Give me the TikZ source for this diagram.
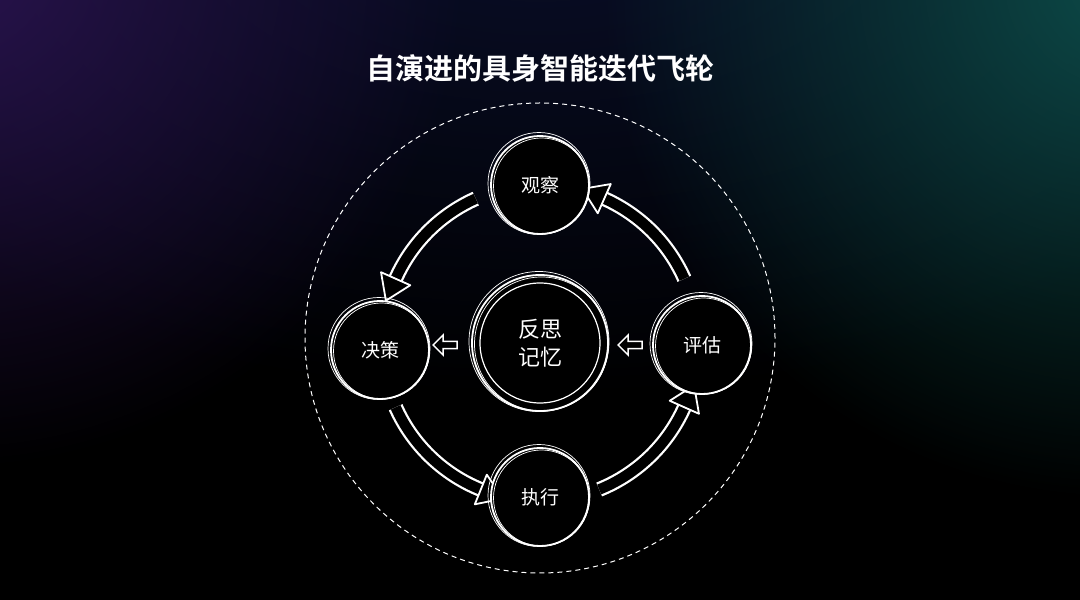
\documentclass[tikz,border=0pt]{standalone}
\usepackage{fontspec}
\newfontfamily\cjk{Noto Sans CJK SC}
\newfontfamily\cjkb{Noto Sans CJK SC Bold}
\usetikzlibrary{shapes.arrows,fadings}
\tikzfading[name=glow, inner color=transparent!0, outer color=transparent!100]
\definecolor{bgp}{HTML}{2A1450}
\definecolor{bgt}{HTML}{0D4A48}
\definecolor{bgn}{HTML}{0A0F2A}
\tikzset{
  stage/.style={circle,draw=white,line width=1.8pt,fill=black,minimum size=#1,text=white,font=\cjk\fontsize{19}{20}\selectfont},
  sketch/.style={draw=white!80,line width=0.7pt},
  small/.style={single arrow,draw=white,line width=1.5pt,fill=black,minimum height=24pt,minimum width=20pt,single arrow head extend=3pt,shape border rotate=180,inner sep=1pt}
}
\newcommand{\flowarc}[3]{% start angle, end angle, radius
  \draw[white,line width=15pt] (540+#3*cos #1, 257+#3*sin #1) arc[start angle=#1,end angle=#2,radius=#3];
  \draw[black,line width=10.5pt] (540+#3*cos #1, 257+#3*sin #1) arc[start angle=#1,end angle=#2,radius=#3];
  \begin{scope}[shift={(540+#3*cos #2, 257+#3*sin #2)},rotate=#2]
    \draw[white,line width=1.8pt,fill=black,line join=round] (-16,0)--(16,0)--(0,24)--cycle;
  \end{scope}}
\begin{document}
\begin{tikzpicture}[x=1pt,y=1pt]
\useasboundingbox (0,0) rectangle (1080,600);
\fill[black] (0,0) rectangle (1080,600);
\fill[bgn,path fading=glow] (540,700) ellipse[x radius=900,y radius=500];
\fill[bgp,path fading=glow] (-50,650) circle[radius=520];
\fill[bgt,path fading=glow] (1120,620) circle[radius=520];
\node[text=white,font=\cjkb\fontsize{29}{32}\selectfont] (title) at (540,532) {自演进的具身智能迭代飞轮};
\draw[white!85,line width=1pt,dash pattern=on 5pt off 4pt] (540,262) circle[radius=235];
\flowarc{114}{156}{158}
\flowarc{204}{248}{158}
\flowarc{292}{336}{158}
\flowarc{24}{66}{158}
\node[stage=98pt] (obs) at (540,415) {观察};
\node[stage=98pt] (dec) at (380,250) {决策};
\node[stage=98pt] (eva) at (702,255) {评估};
\node[stage=98pt] (exe) at (540,103) {执行};
\node[stage=136pt,font=\cjk\fontsize{22}{28}\selectfont,align=center] (mem) at (540,257) {反思\\记忆};
\foreach \n/\r in {obs/50,dec/50,eva/50,exe/50,mem/69}{
  \draw[sketch] ([shift={(1.5,-1)}]\n.center) circle[radius=\r-2];
  \draw[sketch,white!60] ([shift={(-1,1.5)}]\n.center) circle[radius=\r+1];
}
\draw[white,line width=1.2pt] (mem.center) circle[radius=60];
\node[small] (a1) at (447,255) {};
\node[small] (a2) at (632,255) {};
\end{tikzpicture}
\end{document}
